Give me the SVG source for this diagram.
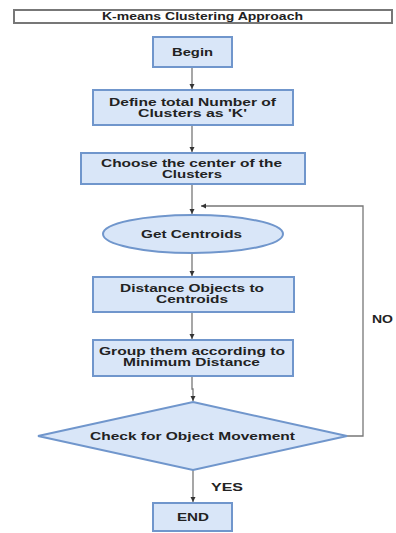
<svg xmlns="http://www.w3.org/2000/svg" width="396" height="533" viewBox="0 0 396 533">
<defs>
<marker id="ah" markerWidth="6" markerHeight="6" refX="5" refY="3" orient="auto" markerUnits="userSpaceOnUse">
<path d="M0,0.5 L5,3 L0,5.5 Z" fill="#333"/>
</marker>
<style>
.box{fill:#d9e6f8;stroke:#7096cc;stroke-width:2}
.t{font-family:"Liberation Sans",Arial,sans-serif;font-weight:bold;font-size:11px;fill:#222;text-anchor:middle}
.c{fill:none;stroke:#777;stroke-width:1.3}
</style>
</defs>
<rect width="396" height="533" fill="#fff"/>
<g id="title">
<rect x="14" y="10" width="378" height="13" fill="#fff" stroke="#777" stroke-width="2"/>
<text class="t" x="202.5" y="20" font-size="9.5" textLength="201" lengthAdjust="spacingAndGlyphs">K-means Clustering Approach</text>
</g>
<g id="connectors">
<path class="c" d="M192,67 V89" marker-end="url(#ah)"/>
<path class="c" d="M192,125 V152" marker-end="url(#ah)"/>
<path class="c" d="M192,184 V214" marker-end="url(#ah)"/>
<path class="c" d="M192,253 V276" marker-end="url(#ah)"/>
<path class="c" d="M192,312 V339" marker-end="url(#ah)"/>
<path class="c" d="M192,376 V389 H193 V401" marker-end="url(#ah)"/>
<path class="c" d="M193,470 V502" marker-end="url(#ah)"/>
<path class="c" d="M347,436 H363 V206 H201" marker-end="url(#ah)"/>
</g>
<g id="begin">
<rect class="box" x="153" y="37" width="79" height="30"/>
<text class="t" x="192.5" y="56" textLength="41" lengthAdjust="spacingAndGlyphs">Begin</text>
</g>
<g id="define">
<rect class="box" x="93" y="90" width="200" height="35"/>
<text class="t" x="192.5" y="106" textLength="167" lengthAdjust="spacingAndGlyphs">Define total Number of</text>
<text class="t" x="192.5" y="117" textLength="109" lengthAdjust="spacingAndGlyphs">Clusters as 'K'</text>
</g>
<g id="choose">
<rect class="box" x="81" y="153" width="224" height="31"/>
<text class="t" x="191.5" y="167" textLength="181" lengthAdjust="spacingAndGlyphs">Choose the center of the</text>
<text class="t" x="192" y="178" textLength="60" lengthAdjust="spacingAndGlyphs">Clusters</text>
</g>
<g id="centroids">
<ellipse class="box" cx="193" cy="234" rx="90" ry="19"/>
<text class="t" x="191.5" y="238" textLength="101" lengthAdjust="spacingAndGlyphs">Get Centroids</text>
</g>
<g id="distance">
<rect class="box" x="93" y="277" width="201" height="35"/>
<text class="t" x="192" y="292" textLength="144" lengthAdjust="spacingAndGlyphs">Distance Objects to</text>
<text class="t" x="192" y="303" textLength="72" lengthAdjust="spacingAndGlyphs">Centroids</text>
</g>
<g id="group">
<rect class="box" x="93" y="340" width="200" height="36"/>
<text class="t" x="192" y="355" textLength="186" lengthAdjust="spacingAndGlyphs">Group them according to</text>
<text class="t" x="191.5" y="366" textLength="137" lengthAdjust="spacingAndGlyphs">Minimum Distance</text>
</g>
<g id="check">
<polygon class="box" points="193,402 347,436 193,470 38,436"/>
<text class="t" x="192.5" y="440" textLength="205" lengthAdjust="spacingAndGlyphs">Check for Object Movement</text>
</g>
<g id="end">
<rect class="box" x="153" y="503" width="79" height="28"/>
<text class="t" x="193" y="521" textLength="32" lengthAdjust="spacingAndGlyphs">END</text>
</g>
<g id="labels">
<text class="t" x="227" y="491" textLength="32" lengthAdjust="spacingAndGlyphs">YES</text>
<text class="t" x="382.5" y="323" textLength="21" lengthAdjust="spacingAndGlyphs">NO</text>
</g>
</svg>
